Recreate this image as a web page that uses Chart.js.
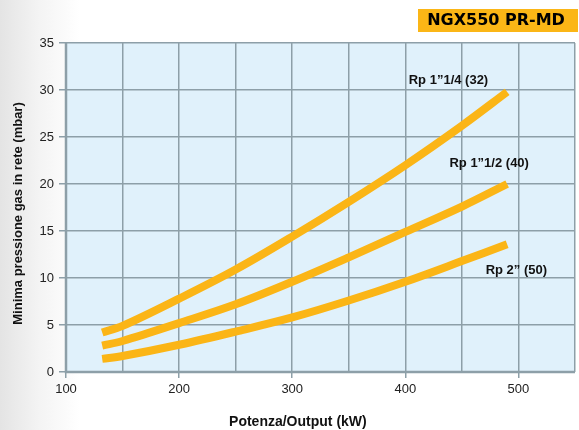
<!DOCTYPE html>
<html lang="it">
<head>
<meta charset="utf-8" />
<title>NGX550 PR-MD</title>
<script src="https://cdn.jsdelivr.net/npm/chart.js@4.4.0/dist/chart.umd.min.js"></script>
<style>
  html, body { margin: 0; padding: 0; }
  body {
    width: 579px; height: 430px; overflow: hidden;
    background: linear-gradient(to right, #e4e4e4 0px, #f4f4f4 40px, #ffffff 80px);
  }
  canvas { display: block; }
</style>
</head>
<body>
<canvas id="myChart" width="579" height="430"></canvas>
<script>
// power (kW)
var powerKW = [132, 150, 200, 250, 300, 350, 400, 450, 490];
// minimum gas pressure (mbar) per connection
var rp114 = [4.2, 4.9, 7.8, 10.9, 14.4, 18.1, 22.0, 26.2, 29.8];
var rp112 = [2.8, 3.3, 5.2, 7.2, 9.6, 12.2, 14.9, 17.6, 20.0];
var rp2 = [1.4, 1.7, 2.9, 4.3, 5.8, 7.6, 9.6, 11.8, 13.6];
var seriesNames = ['Rp 1\u201D1/4 (32)', 'Rp 1\u201D1/2 (40)', 'Rp 2\u201D (50)'];
// label anchors in data units (left edge, middle)
var labelX = [403, 439, 471];
var labelY = [31.0, 22.2, 10.8];
var xTicks = [100, 200, 300, 400, 500];
var yTicks = [0, 5, 10, 15, 20, 25, 30, 35];

var lineColor = '#fbb516';
var gridColor = '#8d9fa8';

function pts(ys) {
  var out = [];
  for (var i = 0; i < powerKW.length; i++) out.push({x: powerKW[i], y: ys[i]});
  return out;
}

function ds(ys) {
  return {
    data: pts(ys),
    borderColor: lineColor,
    borderWidth: 8,
    borderCapStyle: 'butt',
    pointRadius: 0,
    tension: 0.35,
    fill: false
  };
}

var deco = {
  id: 'deco',
  beforeDraw: function(chart) {
    var a = chart.chartArea, c = chart.ctx;
    c.save();
    c.fillStyle = '#e0f1fb';
    c.fillRect(a.left, a.top, a.right - a.left, a.bottom - a.top);
    c.restore();
  },
  afterDraw: function(chart) {
    var c = chart.ctx, a = chart.chartArea;
    var xs = chart.scales.x, ys = chart.scales.y;
    c.save();
    // axis lines
    c.strokeStyle = gridColor;
    c.lineWidth = 2.5;
    c.beginPath();
    c.moveTo(a.left, a.top);
    c.lineTo(a.left, a.bottom);
    c.lineTo(a.right, a.bottom);
    c.stroke();

    // curve labels
    c.fillStyle = '#111';
    c.font = 'bold 13px "Liberation Sans", Arial, sans-serif';
    c.textBaseline = 'middle';
    c.textAlign = 'left';
    for (var i = 0; i < seriesNames.length; i++) {
      c.fillText(seriesNames[i], xs.getPixelForValue(labelX[i]), ys.getPixelForValue(labelY[i]));
    }

    // axis titles
    c.font = 'bold 14px "Liberation Sans", Arial, sans-serif';
    c.textAlign = 'center';
    c.fillText('Potenza/Output (kW)', xs.getPixelForValue(305), 422);
    c.save();
    c.translate(18, (a.top + a.bottom) / 2 + 6);
    c.rotate(-Math.PI / 2);
    c.font = 'bold 13px "Liberation Sans", Arial, sans-serif';
    c.fillText('Minima pressione gas in rete (mbar)', 0, 0);
    c.restore();

    // model box
    c.fillStyle = '#fbb616';
    c.fillRect(418, 9, 160, 23);
    c.fillStyle = '#000';
    c.font = 'bold 16px "DejaVu Sans", sans-serif';
    c.textAlign = 'center';
    c.fillText('NGX550 PR-MD', 496, 21);
    c.restore();
  }
};

new Chart(document.getElementById('myChart'), {
  type: 'line',
  data: { datasets: [ds(rp114), ds(rp112), ds(rp2)] },
  plugins: [deco],
  options: {
    responsive: false,
    animation: false,
    layout: { padding: { top: 43, right: 1, left: 0, bottom: 0 } },
    plugins: { legend: { display: false }, tooltip: { enabled: false } },
    scales: {
      x: {
        type: 'linear',
        min: 100, max: 550,
        afterFit: function(s) { s.height = 58; },
        afterBuildTicks: function(s) {
          var t = [];
          for (var v = 100; v <= 550; v += 50) t.push({value: v});
          s.ticks = t;
        },
        ticks: {
          autoSkip: false,
          maxRotation: 0,
          padding: 4,
          color: '#222',
          font: { family: '"Liberation Sans", Arial, sans-serif', size: 13 },
          callback: function(v) { return xTicks.indexOf(v) >= 0 ? String(v) : ''; }
        },
        grid: {
          color: gridColor,
          lineWidth: 1.5,
          tickLength: 6,
          tickColor: function(ctx) { return ctx.tick && xTicks.indexOf(ctx.tick.value) >= 0 ? gridColor : 'rgba(0,0,0,0)'; }
        },
        border: { display: false }
      },
      y: {
        min: 0, max: 35,
        afterFit: function(s) { s.width = 66; },
        afterBuildTicks: function(s) {
          s.ticks = yTicks.map(function(v) { return {value: v}; });
        },
        ticks: {
          padding: 5,
          color: '#222',
          font: { family: '"Liberation Sans", Arial, sans-serif', size: 13 }
        },
        grid: { color: gridColor, lineWidth: 1.5, tickLength: 7 },
        border: { display: false }
      }
    }
  }
});
</script>
</body>
</html>
